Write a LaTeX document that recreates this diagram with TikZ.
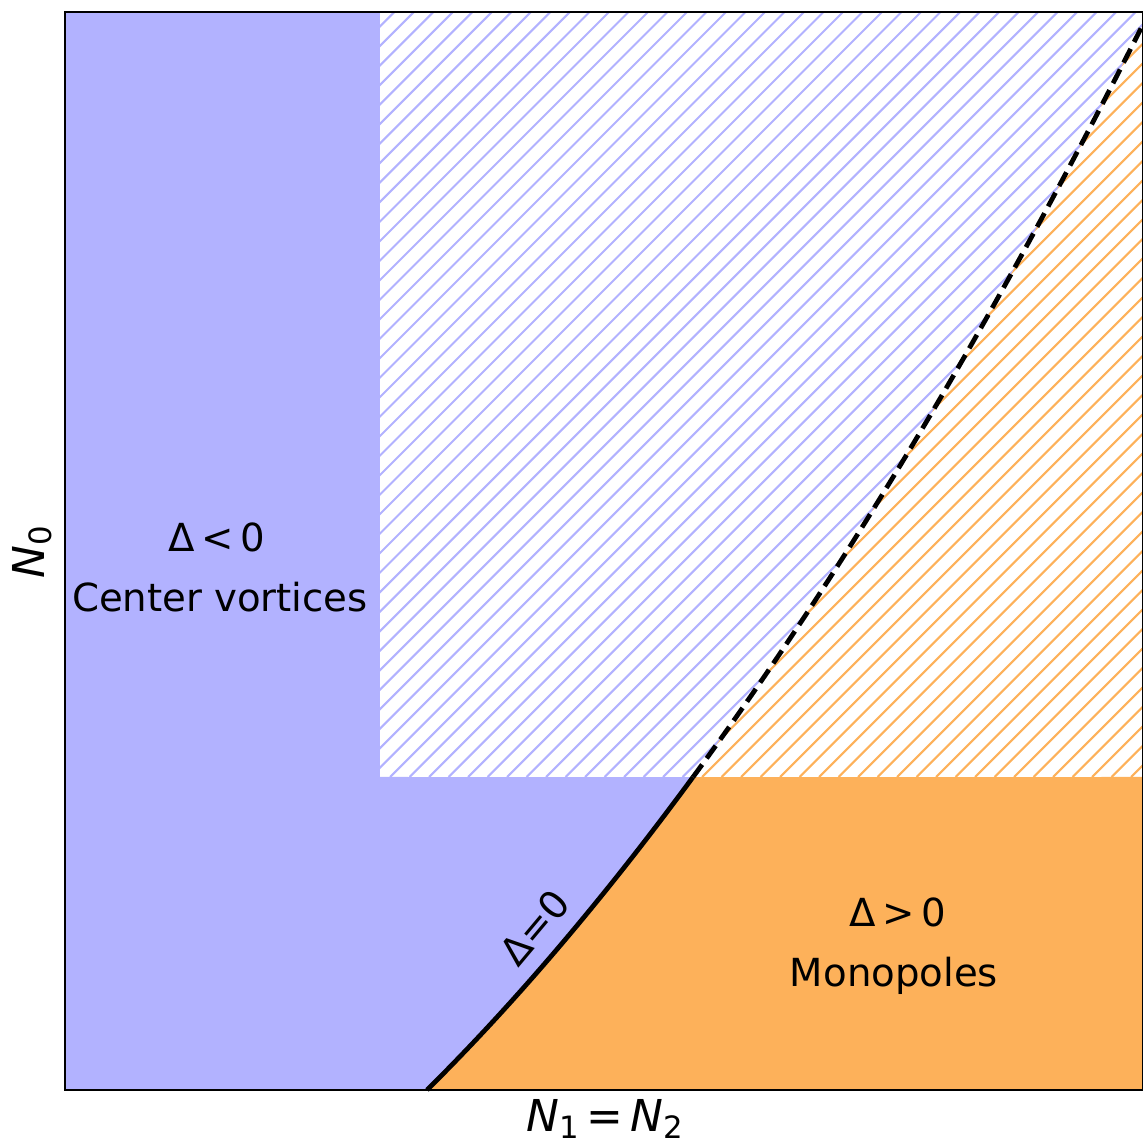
\documentclass[tikz,border=0pt]{standalone}
\usepackage{graphicx}
\usepackage{fontspec}
\setmainfont{DejaVu Sans}[ItalicFont={DejaVu Sans Oblique}]

\definecolor{vortexblue}{RGB}{178,178,255}
\definecolor{monoorange}{RGB}{253,177,90}

% italic N with a lowered small index
\newcommand{\Nidx}[1]{\textit{N}\raisebox{-0.16em}{\scalebox{0.7}{#1}}}

\begin{document}
\begin{tikzpicture}[
	declare function={crv(\u)=0.992*\u+0.0693*\u*\u;},
	regionlabel/.style={font=\fontsize{11}{13}\selectfont, inner sep=0pt},
	axislabel/.style={font=\fontsize{12.5}{15}\selectfont, inner sep=0pt},
	hatchline/.style={line width=0.6pt},
	boundary/.style={line width=1.35pt}]
	
	\useasboundingbox (0,0) rectangle (11.43,11.41);
	
	% Solid regions
	\fill[vortexblue] (0.65,0.51) rectangle (3.80,11.29);
	\fill[vortexblue] (3.79,0.51) -- (4.27,0.51)
		-- plot[domain=0:2.66, samples=40] ({4.27+\x},{0.51+crv(\x)})
		-- (3.79,3.64) -- cycle;
	\fill[monoorange] (4.27,0.51)
		-- plot[domain=0:2.66, samples=40] ({4.27+\x},{0.51+crv(\x)})
		-- (11.43,3.64) -- (11.43,0.51) -- cycle;
	
	% Hatched regions (same family -> same color)
	\begin{scope}
		\clip (3.80,3.64) -- (6.93,3.64)
			-- plot[domain=2.66:7.16, samples=60] ({4.27+\x},{0.51+crv(\x)})
			-- (11.43,11.29) -- (3.80,11.29) -- cycle;
		\foreach \i in {0,...,80} {
			\draw[vortexblue, hatchline] (-3.9+0.195*\i,3.64) -- ++(8,8);
		}
	\end{scope}
	\begin{scope}
		\clip (6.93,3.64)
			-- plot[domain=2.66:7.16, samples=60] ({4.27+\x},{0.51+crv(\x)})
			-- (11.43,3.64) -- cycle;
		\foreach \i in {0,...,80} {
			\draw[monoorange, hatchline] (-3.9+0.195*\i,3.64) -- ++(8,8);
		}
	\end{scope}
	
	% Boundary Delta = 0
	\draw[boundary] plot[domain=0:2.66, samples=40] ({4.27+\x},{0.51+crv(\x)});
	\draw[boundary, dash pattern=on 4.4pt off 2.2pt]
		plot[domain=2.66:7.14, samples=60] ({4.27+\x},{0.51+crv(\x)});
	
	% Axes
	\draw[black, line width=0.5pt] (0.65,0.51) rectangle (11.43,11.29);
	
	% Labels
	\node[regionlabel] (negdelta) at (2.17,6.04) {Δ\,<\,0};
	\node[regionlabel] (vortices) at (2.20,5.44) {Center vortices};
	\node[regionlabel] (posdelta) at (8.98,2.29) {Δ\,>\,0};
	\node[regionlabel] (monopoles) at (8.94,1.655) {Monopoles};
	\node[regionlabel, rotate=50] (zerodelta) at (5.35,2.13) {Δ=0};
	\node[axislabel] (xlabel) at (6.05,0.22) {\Nidx{1}\,=\,\Nidx{2}};
	\node[axislabel, rotate=90] (ylabel) at (0.32,5.89) {\Nidx{0}};
	
\end{tikzpicture}
\end{document}
